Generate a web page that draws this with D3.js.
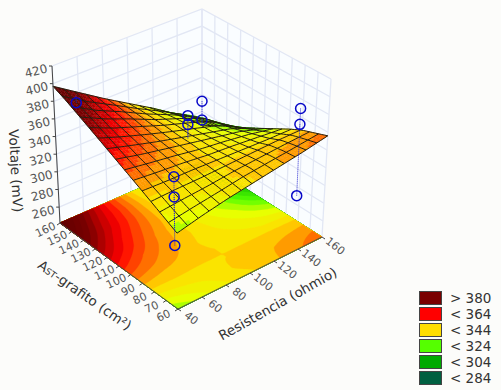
<!DOCTYPE html>
<html>
<head>
    <title>Voltaje surface</title>
    <script src="https://d3js.org/d3.v7.min.js"></script>
    <style>
        body {
            margin: 0;
            background: #fcfcfa;
            font-family: "DejaVu Sans", sans-serif;
        }
        svg {
            display: block;
        }
        .tick-label {
            font-size: 11px;
            fill: #555;
            text-anchor: middle;
        }
        .axis-title {
            font-size: 13.5px;
            fill: #333;
            text-anchor: middle;
        }
    </style>
</head>
<body>
    <div id="chart"></div>

    <script>
        // Axis ticks
        const resistTicks = [40, 60, 80, 100, 120, 140, 160];
        const areaTicks = [60, 70, 80, 90, 100, 110, 120, 130, 140, 150, 160];
        const voltTicks = [260, 280, 300, 320, 340, 360, 380, 400, 420];

        // Voltage, one row per area tick, one column per resistance tick
        const voltA60 = [328, 334, 339, 343, 347, 351, 356];
        const voltA70 = [335, 338, 341, 345, 347, 349, 351];
        const voltA80 = [342, 343, 343, 344, 345, 346, 346];
        const voltA90 = [349, 347, 346, 344, 342, 340, 339];
        const voltA100 = [356, 352, 348, 343, 340, 336, 331];
        const voltA110 = [363, 356, 350, 344, 338, 332, 323];
        const voltA120 = [370, 361, 352, 344, 336, 328, 315];
        const voltA130 = [377, 365, 355, 345, 336, 326, 307];
        const voltA140 = [384, 370, 358, 345, 334, 322, 300];
        const voltA150 = [391, 374, 360, 345, 331, 316, 292];
        const voltA160 = [397, 379, 361, 344, 327, 308, 284];
        const voltRows = [voltA60, voltA70, voltA80, voltA90, voltA100, voltA110,
            voltA120, voltA130, voltA140, voltA150, voltA160];

        // Measured points
        const pointResist = [55, 103, 103, 160, 160, 40, 40, 40, 160, 160, 160];
        const pointArea = [157, 115, 115, 160, 160, 62, 62, 62, 82, 82, 82];
        const pointVolt = [373, 369, 359, 312, 290, 390, 367, 312, 369, 351, 270];

        // Legend
        const legendLabels = ['> 380', '< 364', '< 344', '< 324', '< 304', '< 284'];
        const legendColors = ['#7a0000', '#ff0000', '#ffdd00', '#55ff00', '#00aa00', '#006040'];

        const width = 501;
        const height = 390;
        const zFloor = 242;
        const meshCells = 14;

        const svg = d3.select('#chart')
            .append('svg')
            .attr('width', width)
            .attr('height', height);

        // Box corners on screen, bottom and top of the four vertical edges
        const box = {
            front: {b: [178, 309], t: [176, 152]},
            right: {b: [322, 237], t: [331, 79]},
            left: {b: [60, 223], t: [52, 66]},
            back: {b: [202, 161], t: [202, 9]}
        };

        const rScale = d3.scaleLinear().domain([40, 160]).range([0, 1]);
        const aScale = d3.scaleLinear().domain([60, 160]).range([0, 1]);
        const zScale = d3.scaleLinear().domain([zFloor, 420]).range([0, 1]);

        // Trilinear mapping of (resistance, area, voltage) to the screen
        function project(R, A, V) {
            const r = rScale(R), a = aScale(A), z = zScale(V);
            const out = [0, 1].map(i => {
                const bot = (1 - r) * (1 - a) * box.front.b[i] + r * (1 - a) * box.right.b[i]
                    + (1 - r) * a * box.left.b[i] + r * a * box.back.b[i];
                const top = (1 - r) * (1 - a) * box.front.t[i] + r * (1 - a) * box.right.t[i]
                    + (1 - r) * a * box.left.t[i] + r * a * box.back.t[i];
                return bot + (top - bot) * z;
            });
            return out;
        }

        // Reads the table between its rows and columns
        function voltAt(R, A) {
            const i = Math.min(d3.bisectRight(resistTicks, R) - 1, resistTicks.length - 2);
            const j = Math.min(d3.bisectRight(areaTicks, A) - 1, areaTicks.length - 2);
            const u = (R - resistTicks[i]) / (resistTicks[i + 1] - resistTicks[i]);
            const v = (A - areaTicks[j]) / (areaTicks[j + 1] - areaTicks[j]);
            return (1 - u) * (1 - v) * voltRows[j][i] + u * (1 - v) * voltRows[j][i + 1]
                + (1 - u) * v * voltRows[j + 1][i] + u * v * voltRows[j + 1][i + 1];
        }

        // Colour bands, 4 mV wide like the contour steps
        const colorRamp = d3.scaleLinear()
            .domain([270, 284, 304, 324, 334, 344, 364, 380, 400])
            .range(['#00402c', '#006040', '#00aa00', '#55ff00', '#e8ff00', '#ffdd00', '#ff0000', '#7a0000', '#5c0000'])
            .clamp(true);
        const bandStep = 4;
        const bandColor = v => colorRamp(Math.floor(v / bandStep) * bandStep + bandStep / 2);

        const line = d3.line();

        // Back walls
        const walls = svg.append('g');
        walls.append('path')
            .attr('d', line([project(40, 160, zFloor), project(40, 160, 420), project(160, 160, 420),
                project(160, 60, 420), project(160, 60, zFloor), project(160, 160, zFloor)]) + 'Z')
            .attr('fill', '#fafdff');

        const gridStyle = sel => sel.attr('fill', 'none').attr('stroke', '#e2e7f4').attr('stroke-width', 1.3);

        voltTicks.concat([zFloor]).forEach(v => {
            walls.append('path')
                .attr('d', line([project(40, 160, v), project(160, 160, v), project(160, 60, v)]))
                .call(gridStyle);
        });
        resistTicks.forEach(R => {
            walls.append('path')
                .attr('d', line([project(R, 160, zFloor), project(R, 160, 420)]))
                .call(gridStyle);
        });
        areaTicks.forEach(A => {
            walls.append('path')
                .attr('d', line([project(160, A, zFloor), project(160, A, 420)]))
                .call(gridStyle);
        });

        // Contour floor
        const nx = 97, ny = 81;
        const gridValues = [];
        for (let j = 0; j < ny; j++) {
            for (let i = 0; i < nx; i++) {
                gridValues.push(voltAt(40 + 120 * i / (nx - 1), 60 + 100 * j / (ny - 1)));
            }
        }
        const thresholds = d3.range(264, 404, bandStep);
        const contours = d3.contours().size([nx, ny]).smooth(true).thresholds(thresholds)(gridValues);

        const floorPath = d3.geoPath(d3.geoTransform({
            point(x, y) {
                const R = 40 + 120 * Math.max(0, Math.min(1, (x - 0.5) / (nx - 1)));
                const A = 60 + 100 * Math.max(0, Math.min(1, (y - 0.5) / (ny - 1)));
                const p = project(R, A, zFloor);
                this.stream.point(p[0], p[1]);
            }
        }));

        svg.append('g')
            .selectAll('path')
            .data(contours)
            .enter()
            .append('path')
            .attr('d', floorPath)
            .attr('fill', d => bandColor(d.value))
            .attr('stroke', d => bandColor(d.value))
            .attr('stroke-width', 0.3);

        // Surface, painted from the back corner forward
        const surface = svg.append('g');
        const fillSteps = meshCells * 3;
        const stepR = 120 / fillSteps, stepA = 100 / fillSteps;
        for (let j = fillSteps - 1; j >= 0; j--) {
            for (let i = fillSteps - 1; i >= 0; i--) {
                const R0 = 40 + i * stepR, A0 = 60 + j * stepA;
                const R1 = R0 + stepR, A1 = A0 + stepA;
                const corners = [[R0, A0], [R1, A0], [R1, A1], [R0, A1]]
                    .map(c => project(c[0], c[1], voltAt(c[0], c[1])));
                const c = bandColor(voltAt(R0 + stepR / 2, A0 + stepA / 2));
                surface.append('path')
                    .attr('d', line(corners) + 'Z')
                    .attr('fill', c)
                    .attr('stroke', c)
                    .attr('stroke-width', 0.4);
            }
        }
        const meshR = d3.range(meshCells + 1).map(k => 40 + 120 * k / meshCells);
        const meshA = d3.range(meshCells + 1).map(k => 60 + 100 * k / meshCells);
        const meshStyle = sel => sel.attr('fill', 'none').attr('stroke', '#241f10').attr('stroke-width', 1);
        meshR.forEach(R => {
            surface.append('path')
                .attr('d', line(d3.range(0, fillSteps + 1).map(k => {
                    const A = 60 + k * stepA;
                    return project(R, A, voltAt(R, A));
                })))
                .call(meshStyle);
        });
        meshA.forEach(A => {
            surface.append('path')
                .attr('d', line(d3.range(0, fillSteps + 1).map(k => {
                    const R = 40 + k * stepR;
                    return project(R, A, voltAt(R, A));
                })))
                .call(meshStyle);
        });

        // Axes
        const axes = svg.append('g').attr('stroke', '#444').attr('stroke-width', 1);
        axes.append('path').attr('fill', 'none')
            .attr('d', line([project(40, 160, 420), project(40, 160, zFloor), project(40, 60, zFloor), project(160, 60, zFloor)]));

        voltTicks.forEach(v => {
            const p = project(40, 160, v);
            axes.append('line').attr('x1', p[0] - 3).attr('y1', p[1]).attr('x2', p[0]).attr('y2', p[1]);
            svg.append('text').attr('class', 'tick-label')
                .attr('transform', `translate(${p[0] - 15},${p[1] + 9}) rotate(-14)`)
                .style('font-size', '12px')
                .text(v);
        });
        areaTicks.forEach(A => {
            const p = project(40, A, zFloor);
            axes.append('line').attr('x1', p[0] - 3).attr('y1', p[1] + 2).attr('x2', p[0]).attr('y2', p[1]);
            svg.append('text').attr('class', 'tick-label')
                .attr('transform', `translate(${p[0] - 13},${p[1] + 10}) rotate(-25)`)
                .text(A);
        });
        resistTicks.forEach(R => {
            const p = project(R, 60, zFloor);
            axes.append('line').attr('x1', p[0] + 3).attr('y1', p[1] + 2).attr('x2', p[0]).attr('y2', p[1]);
            svg.append('text').attr('class', 'tick-label')
                .attr('transform', `translate(${p[0] + 11},${p[1] + 12}) rotate(38)`)
                .text(R);
        });

        // Axis titles
        svg.append('text').attr('class', 'axis-title')
            .attr('transform', 'translate(11,171) rotate(87)')
            .text('Voltaje (mV)');
        const areaTitle = svg.append('text').attr('class', 'axis-title')
            .attr('transform', 'translate(82,299) rotate(35)');
        areaTitle.append('tspan').text('A');
        areaTitle.append('tspan').style('font-size', '9px').text('ST');
        areaTitle.append('tspan').text('-grafito (cm²)');
        svg.append('text').attr('class', 'axis-title')
            .attr('transform', 'translate(280,308) rotate(-29.5)')
            .text('Resistencia (ohmio)');

        // Drop lines from each point to the surface, then the points
        const points = pointResist.map((R, i) => ({R: R, A: pointArea[i], V: pointVolt[i]}));
        const marks = svg.append('g');
        points.forEach(d => {
            const p = project(d.R, d.A, d.V);
            const s = project(d.R, d.A, voltAt(d.R, d.A));
            marks.append('line')
                .attr('x1', p[0]).attr('y1', p[1]).attr('x2', s[0]).attr('y2', s[1])
                .attr('stroke', '#2a2ad0')
                .attr('stroke-width', 1)
                .attr('stroke-dasharray', '1 1');
        });
        points.forEach(d => {
            const p = project(d.R, d.A, d.V);
            marks.append('circle')
                .attr('cx', p[0]).attr('cy', p[1]).attr('r', 5)
                .attr('fill', 'none')
                .attr('stroke', '#0808c8')
                .attr('stroke-width', 1.5);
        });

        // Legend
        const legendY = d3.scaleBand().domain(legendLabels).range([290, 386]);
        const legend = svg.append('g');
        legend.selectAll('rect')
            .data(legendLabels)
            .enter()
            .append('rect')
            .attr('x', 419.5)
            .attr('y', d => legendY(d) + 1.5)
            .attr('width', 22)
            .attr('height', 13)
            .attr('fill', (d, i) => legendColors[i])
            .attr('stroke', '#444')
            .attr('stroke-width', 1);
        legend.selectAll('text')
            .data(legendLabels)
            .enter()
            .append('text')
            .attr('x', 450)
            .attr('y', d => legendY(d) + 13)
            .attr('fill', '#333')
            .style('font-size', '13.5px')
            .text(d => d);
    </script>
</body>
</html>
